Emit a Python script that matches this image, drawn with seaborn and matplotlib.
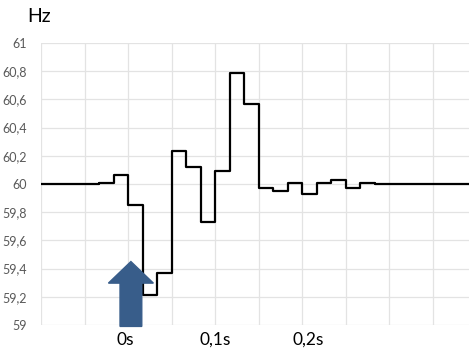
import matplotlib
matplotlib.use("Agg")
import matplotlib.pyplot as plt
import seaborn as sns
import numpy as np
import pandas as pd
from matplotlib.patches import FancyArrow

# Grid frequency, one value per sample (3 samples per grid column)
freq_hz = [60.0, 60.0, 60.0, 60.0, 60.01, 60.065, 59.85, 59.21, 59.37, 60.235,
           60.12, 59.73, 60.09, 60.785, 60.57, 59.97, 59.95, 60.01, 59.93, 60.01,
           60.025, 59.975, 60.01, 60.0, 60.0, 60.0, 60.0, 60.0, 60.0, 60.0]
y_ticks = [59.0, 59.2, 59.4, 59.6, 59.8, 60.0, 60.2, 60.4, 60.6, 60.8, 61.0]
time_labels = ["0s", "0,1s", "0,2s"]
time_label_pos = [5.8, 12.0, 18.4]
event_sample = 6.2

sns.set_theme(style="white")
plt.rcParams["font.family"] = ["Lato", "DejaVu Sans"]

fig = plt.figure(figsize=(4.69, 3.49), dpi=100)
ax = fig.add_axes([41 / 469, 1 - 325 / 349, 428 / 469, 282 / 349])

# step line: each value holds until the next sample
xs = np.arange(len(freq_hz) + 1)
ys = freq_hz + [freq_hz[-1]]
df = pd.DataFrame({"sample": xs, "freq": ys})
sns.lineplot(data=df, x="sample", y="freq", drawstyle="steps-post",
             color="black", linewidth=1.6, ax=ax, zorder=3)

ax.set_xlim(0, 428 / 14.5)
ax.set_ylim(59, 61)
ax.set_xticks(np.arange(0, 30, 3))
ax.set_xticklabels([])
ax.set_yticks(y_ticks)
ax.set_yticklabels([f"{v:g}".replace(".", ",") for v in y_ticks],
                   color="#595959", fontsize=9)
ax.tick_params(axis="both", length=0)
ax.tick_params(axis="y", pad=10)
ax.grid(True, color="#e3e3e3", linewidth=0.9)
ax.set_axisbelow(True)
for s in ax.spines.values():
    s.set_visible(False)
ax.set_xlabel("")
ax.set_ylabel("")

# time annotations below the axis
for lab, pos in zip(time_labels, time_label_pos):
    ax.text(pos, 58.895, lab, ha="center", va="center", fontsize=12.5,
            color="black", clip_on=False)

# event marker arrow
arrow = FancyArrow(event_sample, 58.99, 0, 0.46, width=1.5, head_width=3.1,
                   head_length=0.153, length_includes_head=True,
                   color="#385d8a", zorder=5, clip_on=False)
ax.add_patch(arrow)

fig.text(27 / 469, 1 - 17 / 349, "Hz", fontsize=14, color="black",
         ha="left", va="center")

fig.savefig("out.png", dpi=100)
